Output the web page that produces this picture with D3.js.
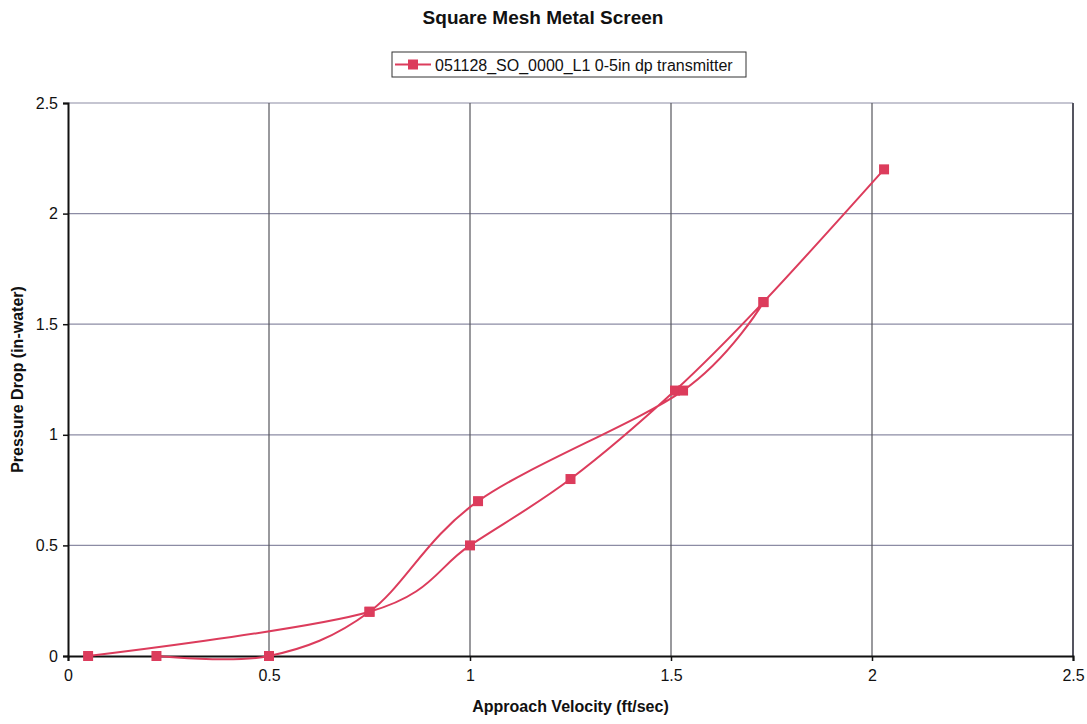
<!DOCTYPE html>
<html>
<head>
<meta charset="utf-8">
<script src="https://cdn.jsdelivr.net/npm/d3@7"></script>
<style>
  body { margin: 0; background: #fff; }
  text { font-family: "Liberation Sans", Arial, sans-serif; fill: #111; }
</style>
</head>
<body>
<svg id="chart"></svg>
<script>
// data (null = blank cell, gives a gap in the line)
var velocity = [0.05, 0.75, 1.0, 1.25, 1.51, 1.73, 2.03, null, 0.22, 0.5, 0.75, 1.02, 1.53, 1.73];
var pressure = [0, 0.2, 0.5, 0.8, 1.2, 1.6, 2.2, null, 0, 0, 0.2, 0.7, 1.2, 1.6];
var xTicks = [0, 0.5, 1, 1.5, 2, 2.5];
var yTicks = [0, 0.5, 1, 1.5, 2, 2.5];
var seriesName = "051128_SO_0000_L1 0-5in dp transmitter";

var svgWidth = 1087;
var svgHeight = 724;
var plot = { left: 68, right: 1073, top: 103, bottom: 656 };
var red = "#dc3c5c";

var points = velocity.map(function(v, i){
    return { x: v, y: pressure[i] };
});

var svg = d3.select('#chart')
            .attr('width', svgWidth)
            .attr('height', svgHeight);

var x = d3.scaleLinear().domain([0, 2.5]).range([plot.left, plot.right]);
var y = d3.scaleLinear().domain([0, 2.5]).range([plot.bottom, plot.top]);

// gridlines
svg.selectAll('line.hgrid')
    .data(yTicks.slice(1))
    .enter()
    .append('line')
    .attr('x1', plot.left).attr('x2', plot.right)
    .attr('y1', function(d){ return y(d); })
    .attr('y2', function(d){ return y(d); })
    .attr('stroke', '#8c8ca4')
    .attr('stroke-width', 1.2);

svg.selectAll('line.vgrid')
    .data(xTicks.slice(1))
    .enter()
    .append('line')
    .attr('y1', plot.top).attr('y2', plot.bottom)
    .attr('x1', function(d){ return x(d); })
    .attr('x2', function(d){ return x(d); })
    .attr('stroke', '#55555c')
    .attr('stroke-width', 1.2);

// right border a bit heavier
svg.append('line')
    .attr('x1', plot.right).attr('x2', plot.right)
    .attr('y1', plot.top).attr('y2', plot.bottom)
    .attr('stroke', '#555560').attr('stroke-width', 2);

// axes
var xAxis = svg.append('g')
    .attr('transform', 'translate(0,' + plot.bottom + ')')
    .call(d3.axisBottom(x).tickValues(xTicks).tickSize(5).tickFormat(d3.format('')));
var yAxis = svg.append('g')
    .attr('transform', 'translate(' + plot.left + ',0)')
    .call(d3.axisLeft(y).tickValues(yTicks).tickSize(5).tickFormat(d3.format('')));

[xAxis, yAxis].forEach(function(ax){
    ax.attr('font-size', null).attr('font-family', null);
    ax.select('.domain').attr('stroke', '#111').attr('stroke-width', 2);
    ax.selectAll('.tick line').attr('stroke', '#111').attr('stroke-width', 1.5);
    ax.selectAll('.tick text').style('font-size', '16px').attr('fill', '#111');
});
xAxis.selectAll('.tick text').attr('y', 14).attr('dy', '0.71em');
yAxis.selectAll('.tick text').attr('x', -10);

// the series
var line = d3.line()
    .defined(function(d){ return d.x !== null; })
    .x(function(d){ return x(d.x); })
    .y(function(d){ return y(d.y); })
    .curve(d3.curveCardinal.tension(0));

svg.append('path')
    .datum(points)
    .attr('d', line)
    .attr('fill', 'none')
    .attr('stroke', red)
    .attr('stroke-width', 2);

svg.selectAll('rect.marker')
    .data(points.filter(function(d){ return d.x !== null; }))
    .enter()
    .append('rect')
    .attr('class', 'marker')
    .attr('x', function(d){ return x(d.x) - 5; })
    .attr('y', function(d){ return y(d.y) - 5; })
    .attr('width', 10)
    .attr('height', 10)
    .attr('fill', red);

// title and axis titles
svg.append('text')
    .attr('x', 543).attr('y', 24)
    .attr('text-anchor', 'middle')
    .style('font-size', '19px').style('font-weight', 'bold')
    .text('Square Mesh Metal Screen');

svg.append('text')
    .attr('x', (plot.left + plot.right) / 2).attr('y', 712)
    .attr('text-anchor', 'middle')
    .style('font-size', '16px').style('font-weight', 'bold')
    .text('Approach Velocity (ft/sec)');

svg.append('text')
    .attr('transform', 'translate(23,' + (plot.top + plot.bottom) / 2 + ') rotate(-90)')
    .attr('text-anchor', 'middle')
    .style('font-size', '16px').style('font-weight', 'bold')
    .text('Pressure Drop (in-water)');

// legend
var legend = svg.append('g').attr('transform', 'translate(392,52)');
legend.append('rect')
    .attr('width', 354).attr('height', 25)
    .attr('fill', '#fff').attr('stroke', '#333').attr('stroke-width', 1);
legend.append('line')
    .attr('x1', 3).attr('x2', 39).attr('y1', 12.5).attr('y2', 12.5)
    .attr('stroke', red).attr('stroke-width', 2);
legend.append('rect')
    .attr('x', 16).attr('y', 7.5).attr('width', 10).attr('height', 10)
    .attr('fill', red);
legend.append('text')
    .attr('x', 43).attr('y', 18.5)
    .style('font-size', '16px')
    .text(seriesName);
</script>
</body>
</html>
